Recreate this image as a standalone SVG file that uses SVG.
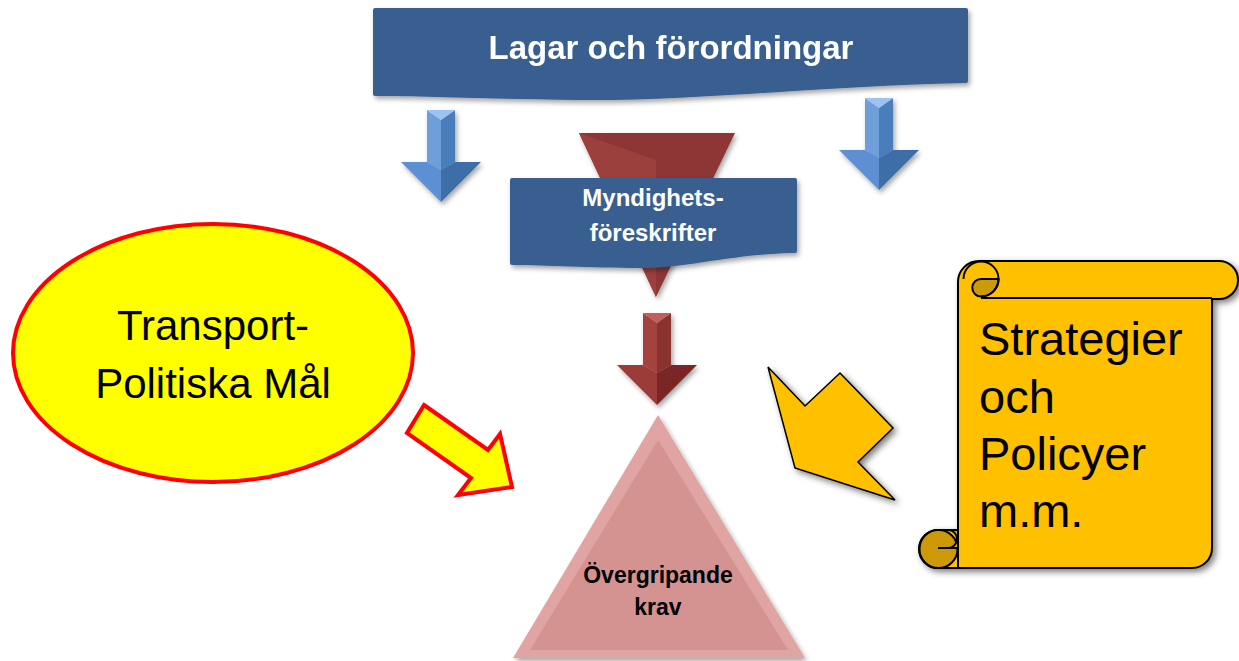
<svg xmlns="http://www.w3.org/2000/svg" width="1239" height="661" viewBox="0 0 1239 661">
<defs>
<filter id="sh" x="-20%" y="-20%" width="140%" height="140%"><feDropShadow dx="2" dy="3" stdDeviation="2.5" flood-color="#000" flood-opacity="0.35"/></filter>
<filter id="sh2" x="-20%" y="-20%" width="140%" height="140%"><feDropShadow dx="3" dy="3" stdDeviation="3" flood-color="#000" flood-opacity="0.5"/></filter>
<style>
.banner{fill:#385F90;}
.wt{fill:#fff;font-family:"Liberation Sans",Arial,sans-serif;font-weight:bold;text-anchor:middle;}
.bt{fill:#000;font-family:"Liberation Sans",Arial,sans-serif;text-anchor:middle;}
.b1{fill:#9DC3F0}.b2{fill:#6E9FDA}.b3{fill:#4A7EBB}.b4{fill:#5C90D2}.b5{fill:#3D6EA8}
.r1{fill:#C0605C}.r2{fill:#A44240}.r3{fill:#8A302E}.r4{fill:#9A3A38}.r5{fill:#7A2826}
.scroll{fill:#FFC000;stroke:#000;stroke-width:2;stroke-linejoin:round}
.curl{fill:#CC9A06;stroke:#000;stroke-width:2}
.ln{fill:none;stroke:#000;stroke-width:2}
</style>
</defs>

<g id="lagar" filter="url(#sh)">
<path class="banner" d="M375,8 L966,8 Q968,8 968,10 L968,81 Q968,83 966,83 C 820,86 700,101 580,100 C 490,99 420,96 375,96 Q373,96 373,94 L373,10 Q373,8 375,8 Z"/>
<text class="wt" x="671" y="59" font-size="33">Lagar och förordningar</text>
</g>

<g id="connectors">
<g id="arrow-left" filter="url(#sh)" transform="translate(441,110)">
<polygon class="b2" points="-14,0 0,10 0,60 -14,52"/>
<polygon class="b3" points="0,10 14,0 14,52 0,60"/>
<polygon class="b1" points="-14,0 14,0 0,10"/>
<polygon class="b4" points="-40,52 -14,52 0,60 0,92"/>
<polygon class="b5" points="14,52 40,52 0,92 0,60"/>
</g>
<g id="arrow-right" filter="url(#sh)" transform="translate(879,98)">
<polygon class="b2" points="-14,0 0,10 0,60 -14,52"/>
<polygon class="b3" points="0,10 14,0 14,52 0,60"/>
<polygon class="b1" points="-14,0 14,0 0,10"/>
<polygon class="b4" points="-40,52 -14,52 0,60 0,92"/>
<polygon class="b5" points="14,52 40,52 0,92 0,60"/>
</g>
<g id="arrow-red" filter="url(#sh)" transform="translate(657,313)">
<polygon class="r2" points="-14,0 0,10 0,60 -14,52"/>
<polygon class="r3" points="0,10 14,0 14,52 0,60"/>
<polygon class="r1" points="-14,0 14,0 0,10"/>
<polygon class="r4" points="-40,52 -14,52 0,60 0,92"/>
<polygon class="r5" points="14,52 40,52 0,92 0,60"/>
</g>
<polygon id="arrow-yellow" points="424,405 488,450 500,434 512,487 458,495 471,478 407,433" fill="#FFFF00" stroke="#FF0000" stroke-width="4" stroke-linejoin="miter"/>
<polygon id="arrow-orange" filter="url(#sh2)" points="768,367 805,406 840,373 893,428 858,462 895,500 795,468" fill="#FFC000" stroke="#000" stroke-width="1.5"/>
</g>

<g id="myndighet">
<g filter="url(#sh)">
<polygon points="579,133 735,133 656,297" fill="#8E3634"/>
<polygon points="579,133 656,160 656,297" fill="#9C403D"/>
</g>
<path class="banner" filter="url(#sh)" d="M512,178 L795,178 Q797,178 797,180 L797,251 Q797,253 795,253 C 730,254 690,268 640,268 C 590,268 545,265 512,265 Q510,265 510,263 L510,180 Q510,178 512,178 Z"/>
<text class="wt" x="653" y="206" font-size="24">Myndighets-</text>
<text class="wt" x="653" y="241" font-size="24">föreskrifter</text>
</g>

<g id="transport">
<ellipse cx="213" cy="353" rx="200" ry="129" fill="#FFFF00" stroke="#FF0000" stroke-width="4"/>
<text class="bt" x="213" y="340" font-size="42">Transport-</text>
<text class="bt" x="213" y="398" font-size="42">Politiska Mål</text>
</g>

<g id="overgripande">
<g filter="url(#sh)">
<polygon points="658,415 805,658 513,658" fill="#E0A4A2"/>
<polygon points="658,440 788,650 530,650" fill="#D49391"/>
</g>
<text class="wt" x="658" y="583" font-size="23" style="fill:#000">Övergripande</text>
<text class="wt" x="658" y="615" font-size="23" style="fill:#000">krav</text>
</g>

<g id="strategier">
<path class="scroll" filter="url(#sh2)" d="M958,282 A21,21 0 0 1 979,261 L1219,261 A19,19 0 0 1 1219,299 L1212,299 L1212,548 A20,20 0 0 1 1192,568 L938,568 A19,19 0 0 1 938,530 L958,530 Z"/>
<path class="curl" d="M981,279 L998.5,279 A17.5,17.5 0 0 1 981,296.5 A8.75,8.75 0 0 1 981,279 Z"/>
<path class="ln" d="M963.5,279 A17.5,17.5 0 0 1 998.5,279 A17.5,17.5 0 0 1 981,296.5"/>
<path class="ln" d="M981,298 L1212,298"/>
<circle cx="938.5" cy="549" r="19" fill="#CC9A06" stroke="#000" stroke-width="2"/>
<path d="M948,548 A9,9 0 0 0 948,530 L958,530 L958,548 Z" fill="#D9A300" stroke="#000" stroke-width="2"/>
<path class="ln" d="M938,548 L958,548 L958,568"/>
<text class="bt" x="979" y="355" font-size="47" style="text-anchor:start">Strategier</text>
<text class="bt" x="979" y="413" font-size="47" style="text-anchor:start">och</text>
<text class="bt" x="979" y="470" font-size="47" style="text-anchor:start">Policyer</text>
<text class="bt" x="979" y="527" font-size="47" style="text-anchor:start">m.m.</text>
</g>
</svg>
